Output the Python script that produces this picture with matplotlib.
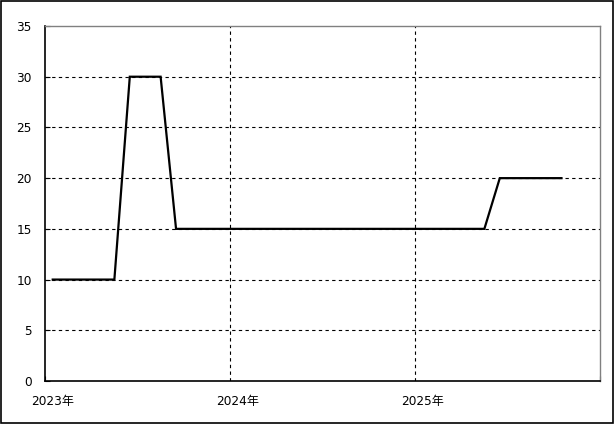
import numpy as np
import matplotlib
matplotlib.use('Agg')
import matplotlib.pyplot as plt
from matplotlib.patches import Rectangle

plt.rcParams['font.family'] = ['DejaVu Sans', 'Noto Sans CJK JP']

# monthly values, Jan 2023 .. Oct 2025
values = [10, 10, 10, 10, 10,
          30, 30, 30,
          15, 15, 15, 15, 15, 15, 15, 15, 15, 15, 15, 15, 15, 15, 15, 15, 15, 15, 15, 15, 15,
          20, 20, 20, 20, 20]
year_labels = ['2023年', '2024年', '2025年']
n_months = 36

fig = plt.figure(figsize=(6.15, 4.24), dpi=100)
ax = fig.add_axes([45 / 615, 1 - 381 / 424, 555 / 615, 355 / 424])

x = np.arange(len(values)) + 0.5
ax.plot(x, values, color='black', lw=1.6, solid_joinstyle='miter')

ax.set_xlim(0, n_months)
ax.set_ylim(0, 35)

# grid
for yv in range(5, 35, 5):
    ax.axhline(yv, color='black', lw=0.8, ls=(0, (3, 3)), zorder=0)
for xv in (12, 24):
    ax.axvline(xv, color='black', lw=0.8, ls=(0, (3, 3)), zorder=0)

ax.set_yticks(range(0, 36, 5))
ax.tick_params(axis='y', direction='in', length=3.6, width=0.8, pad=9.5, labelsize=8.7)

ax.set_xticks([0, n_months])
ax.set_xticklabels(['', ''])
ax.tick_params(axis='x', which='major', direction='in', length=3.6, width=0.8)
ax.set_xticks([0.5, 12.5, 24.5], minor=True)
ax.set_xticklabels(year_labels, minor=True)
ax.tick_params(axis='x', which='minor', length=0, pad=10, labelsize=8.7)

for s in ('left', 'bottom'):
    ax.spines[s].set_color('black')
    ax.spines[s].set_linewidth(1.2)
for s in ('top', 'right'):
    ax.spines[s].set_color('#808080')
    ax.spines[s].set_linewidth(1)

fig.patches.append(Rectangle((0.001, 0.002), 0.996, 0.995, transform=fig.transFigure,
                             fill=False, edgecolor='black', lw=1.2))

fig.savefig('out.png', dpi=100)
